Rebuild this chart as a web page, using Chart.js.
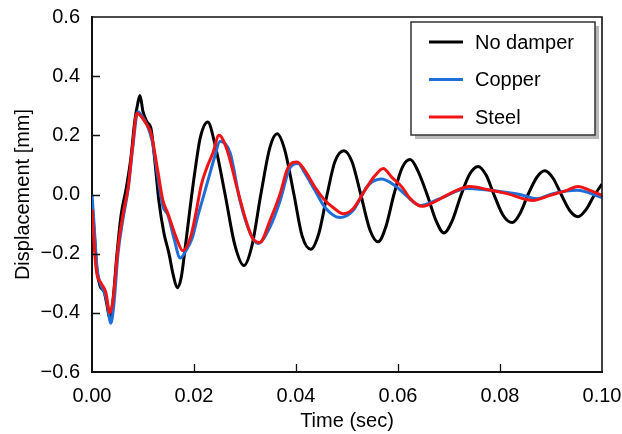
<!DOCTYPE html>
<html>
<head>
<meta charset="utf-8">
<script src="https://cdn.jsdelivr.net/npm/chart.js@4.4.1/dist/chart.umd.min.js"></script>
<style>
  html, body { margin: 0; padding: 0; background: #fff; }
  #wrap { width: 622px; height: 434px; }
</style>
</head>
<body>
<div id="wrap"><canvas id="chartCanvas" width="622" height="434"></canvas></div>
<script>
// --- data ---
var seriesNames = ['No damper', 'Copper', 'Steel']
var seriesColors = ['#000000', '#1f6fd8', '#f01414']

// time (sec) and displacement (mm) for each series
var timeNoDamper = [
  0.0000, 0.0004, 0.0010, 0.0016, 0.0024, 0.0029, 0.0035, 0.0041, 0.0049, 0.0057,
  0.0067, 0.0076, 0.0084, 0.0090, 0.0094, 0.0100, 0.0108, 0.0116, 0.0124, 0.0131,
  0.0141, 0.0151, 0.0159, 0.0167, 0.0175, 0.0182, 0.0192, 0.0202, 0.0212, 0.0227,
  0.0241, 0.0261, 0.0280, 0.0298, 0.0314, 0.0331, 0.0349, 0.0363, 0.0378, 0.0396,
  0.0412, 0.0429, 0.0445, 0.0461, 0.0476, 0.0494, 0.0510, 0.0527, 0.0545, 0.0561,
  0.0576, 0.0592, 0.0608, 0.0624, 0.0639, 0.0657, 0.0675, 0.0690, 0.0706, 0.0724,
  0.0741, 0.0757, 0.0773, 0.0788, 0.0806, 0.0824, 0.0839, 0.0855, 0.0873, 0.0888,
  0.0904, 0.0920, 0.0937, 0.0953, 0.0969, 0.0984, 0.1000
]
var noDamper = [
  -0.02, -0.12, -0.26, -0.31, -0.33, -0.37, -0.42, -0.36, -0.20, -0.07,
  0.02, 0.12, 0.25, 0.31, 0.335, 0.28, 0.245, 0.22, 0.10, -0.02,
  -0.13, -0.20, -0.27, -0.315, -0.28, -0.19, -0.05, 0.08, 0.19, 0.245,
  0.17, 0.0, -0.17, -0.24, -0.17, 0.0, 0.16, 0.205, 0.15, 0.0,
  -0.14, -0.185, -0.13, 0.0, 0.11, 0.148, 0.11, 0.0, -0.12, -0.16,
  -0.11, 0.0, 0.09, 0.118, 0.08, 0.0, -0.09, -0.13, -0.09, 0.0,
  0.07, 0.095, 0.065, 0.0, -0.07, -0.095, -0.065, 0.0, 0.06, 0.08,
  0.055, 0.0, -0.055, -0.075, -0.05, -0.005, 0.035
]

var timeCopper = [
  0.0000, 0.0004, 0.0010, 0.0016, 0.0024, 0.0029, 0.0037, 0.0043, 0.0051, 0.0061,
  0.0071, 0.0080, 0.0090, 0.0098, 0.0108, 0.0118, 0.0129, 0.0139, 0.0149, 0.0161,
  0.0173, 0.0184, 0.0196, 0.0208, 0.0218, 0.0231, 0.0241, 0.0251, 0.0271, 0.0290,
  0.0310, 0.0325, 0.0349, 0.0369, 0.0388, 0.0404, 0.0418, 0.0437, 0.0457, 0.0486,
  0.0512, 0.0541, 0.0567, 0.0594, 0.0614, 0.0643, 0.0682, 0.0735, 0.0780, 0.0814,
  0.0839, 0.0873, 0.0904, 0.0951, 0.1000
]
var copper = [
  0.0, -0.10, -0.25, -0.30, -0.33, -0.36, -0.435, -0.37, -0.20, -0.08,
  0.02, 0.16, 0.28, 0.265, 0.235, 0.18, 0.06, -0.04, -0.07, -0.15,
  -0.215, -0.19, -0.15, -0.07, -0.01, 0.07, 0.13, 0.18, 0.14, -0.02,
  -0.13, -0.166, -0.11, -0.02, 0.09, 0.105, 0.07, 0.014, -0.044, -0.078,
  -0.054, 0.03, 0.052, 0.03, 0.0, -0.037, -0.014, 0.02, 0.014, 0.007,
  0.0, -0.014, 0.003, 0.014, -0.01
]

var timeSteel = [
  0.0000, 0.0008, 0.0018, 0.0027, 0.0035, 0.0041, 0.0051, 0.0061, 0.0071, 0.0080,
  0.0088, 0.0106, 0.0116, 0.0129, 0.0139, 0.0149, 0.0165, 0.0178, 0.0194, 0.0204,
  0.0214, 0.0225, 0.0237, 0.0249, 0.0265, 0.0284, 0.0300, 0.0314, 0.0329, 0.0349,
  0.0369, 0.0384, 0.0402, 0.0418, 0.0437, 0.0457, 0.0476, 0.0492, 0.0512, 0.0535,
  0.0555, 0.0571, 0.0588, 0.0608, 0.0624, 0.0647, 0.0669, 0.0702, 0.0741, 0.0775,
  0.0814, 0.0865, 0.0898, 0.0931, 0.0953, 0.0976, 0.1000
]
var steel = [
  -0.05, -0.25, -0.30, -0.33, -0.40, -0.36, -0.18, -0.065, 0.025, 0.17,
  0.275, 0.24, 0.205, 0.08, -0.02, -0.065, -0.145, -0.19, -0.14, -0.06,
  0.03, 0.09, 0.14, 0.20, 0.15, 0.025, -0.077, -0.145, -0.162, -0.088,
  0.003, 0.09, 0.11, 0.08, 0.025, -0.02, -0.048, -0.065, -0.048, 0.014,
  0.064, 0.088, 0.058, 0.025, -0.014, -0.04, -0.027, 0.003, 0.027, 0.017,
  0.003, -0.02, -0.003, 0.014, 0.027, 0.014, -0.003
]

var xTitle = 'Time (sec)'
var yTitle = 'Displacement [mm]'

// pair time + value into {x, y} points for Chart.js
function toPoints(times, values) {
  return times.map((t, i) => ({ x: t, y: values[i] }))
}

var allTimes = [timeNoDamper, timeCopper, timeSteel]
var allValues = [noDamper, copper, steel]

var datasets = seriesNames.map((name, i) => {
  return {
    label: name,
    data: toPoints(allTimes[i], allValues[i]),
    borderColor: seriesColors[i],
    backgroundColor: seriesColors[i],
    borderWidth: 3,
    pointRadius: 0,
    cubicInterpolationMode: 'monotone',
    order: seriesNames.length - i   // red on top, black at the bottom
  }
})

var FONT = 'Liberation Sans, Arial, sans-serif'

// frame, inward tick marks and the boxed legend
var framePlugin = {
  id: 'frame',
  afterDatasetsDraw(chart) {
    var ctx = chart.ctx
    var a = chart.chartArea
    var xs = chart.scales.x
    var ys = chart.scales.y
    ctx.save()
    ctx.strokeStyle = '#111'
    ctx.lineWidth = 1.6
    ctx.beginPath()
    ctx.moveTo(a.left, a.top)
    ctx.lineTo(a.right, a.top)
    ctx.lineTo(a.right, a.bottom)
    ctx.stroke()

    // inward ticks
    ctx.lineWidth = 1.3
    ctx.beginPath()
    ys.ticks.forEach(t => {
      var py = Math.round(ys.getPixelForValue(t.value)) + 0.5
      if (py > a.top + 2 && py < a.bottom - 2) {
        ctx.moveTo(a.left, py)
        ctx.lineTo(a.left + 8, py)
      }
    })
    xs.ticks.forEach(t => {
      var px = Math.round(xs.getPixelForValue(t.value)) + 0.5
      if (px > a.left + 2 && px < a.right - 2) {
        ctx.moveTo(px, a.bottom)
        ctx.lineTo(px, a.bottom - 8)
      }
    })
    ctx.stroke()

    // legend box with shadow
    var w = 184, h = 113
    var bx = a.right - 7 - w
    var by = a.top + 5
    ctx.fillStyle = '#b8b8b8'
    ctx.fillRect(bx + 4, by + 4, w, h)
    ctx.fillStyle = '#fff'
    ctx.fillRect(bx, by, w, h)
    ctx.strokeStyle = '#333'
    ctx.lineWidth = 1.5
    ctx.strokeRect(bx, by, w, h)

    ctx.font = '20px ' + FONT
    ctx.textBaseline = 'middle'
    ctx.textAlign = 'left'
    chart.data.datasets.forEach((ds, i) => {
      var ly = by + 20 + i * 37.5
      ctx.strokeStyle = ds.borderColor
      ctx.lineWidth = 3
      ctx.beginPath()
      ctx.moveTo(bx + 18, ly)
      ctx.lineTo(bx + 52, ly)
      ctx.stroke()
      ctx.fillStyle = '#000'
      ctx.fillText(ds.label, bx + 64, ly + 1)
    })
    ctx.restore()
  }
}

const ctx = document.getElementById('chartCanvas')

var myChart = new Chart(ctx, {
  type: 'line',
  data: { datasets: datasets },
  options: {
    responsive: false,
    animation: false,
    devicePixelRatio: 1,
    layout: { padding: { left: 0, right: 20, top: 17, bottom: 0 } },
    plugins: {
      legend: { display: false },
      tooltip: { enabled: false }
    },
    scales: {
      x: {
        type: 'linear',
        min: 0,
        max: 0.1,
        afterFit: s => { s.height = 62; s.paddingLeft = 0; s.paddingRight = 0 },
        grid: { display: false, drawTicks: false },
        border: { display: true, color: '#111', width: 2 },
        ticks: {
          stepSize: 0.02,
          padding: 12,
          color: '#000',
          font: { family: FONT, size: 20 },
          maxRotation: 0,
          callback: v => v.toFixed(2)
        },
        title: {
          display: true,
          text: xTitle,
          color: '#000',
          font: { family: FONT, size: 20, lineHeight: 1.2 },
          padding: { top: 0, bottom: 1 }
        }
      },
      y: {
        min: -0.6,
        max: 0.6,
        afterFit: s => { s.width = 92; s.paddingTop = 0; s.paddingBottom = 0 },
        grid: { display: false, drawTicks: false },
        border: { display: true, color: '#111', width: 2 },
        ticks: {
          stepSize: 0.2,
          padding: 12,
          color: '#000',
          font: { family: FONT, size: 20 },
          callback: v => {
            if (Math.abs(v) < 1e-9) return '0.0'
            return (v < 0 ? '\u2212' : '') + Math.abs(v).toFixed(1)
          }
        },
        title: {
          display: true,
          text: yTitle,
          color: '#000',
          font: { family: FONT, size: 20, lineHeight: 1.2 },
          padding: { top: 11, bottom: 0 }
        }
      }
    }
  },
  plugins: [framePlugin]
})
</script>
</body>
</html>
